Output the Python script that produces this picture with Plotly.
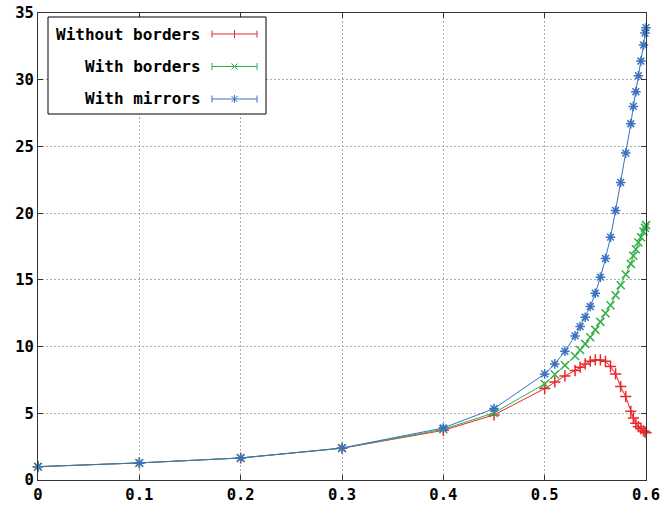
import plotly.graph_objects as go

# ---- data ----
x_vals = [0, 0.1, 0.2, 0.3, 0.4, 0.45, 0.5, 0.51, 0.52, 0.53, 0.535, 0.54, 0.545, 0.55,
          0.555, 0.56, 0.565, 0.57, 0.575, 0.58, 0.585, 0.5875, 0.59, 0.5925, 0.595,
          0.5975, 0.599, 0.6]
without_borders = [1.0, 1.28, 1.65, 2.38, 3.72, 4.88, 6.85, 7.35, 7.8, 8.2, 8.45, 8.7, 8.9, 9.0,
                   9.0, 8.9, 8.5, 7.95, 7.0, 6.25, 5.15, 4.65, 4.25, 4.0, 3.85, 3.68, 3.6, 3.55]
with_borders = [1.0, 1.28, 1.65, 2.38, 3.8, 5.03, 7.2, 7.9, 8.6, 9.3, 9.75, 10.2, 10.7, 11.25,
                11.85, 12.5, 13.1, 13.85, 14.6, 15.4, 16.2, 16.8, 17.3, 17.8, 18.2, 18.6, 18.9, 19.1]
with_mirrors = [1.0, 1.28, 1.65, 2.4, 3.9, 5.35, 7.95, 8.7, 9.65, 10.8, 11.5, 12.2, 13.0, 14.0,
                15.2, 16.6, 18.2, 20.2, 22.3, 24.5, 26.7, 28.0, 29.1, 30.3, 31.4, 32.6, 33.5, 33.9]
series_names = ["Without borders", "With borders", "With mirrors"]
x_ticks = [0, 0.1, 0.2, 0.3, 0.4, 0.5, 0.6]
x_tick_labels = ["0", "0.1", "0.2", "0.3", "0.4", "0.5", "0.6"]
y_ticks = [0, 5, 10, 15, 20, 25, 30, 35]

# ---- styling ----
W, H = 663, 509
ML, MR, MT, MB = 38, 17, 13, 29
colors = ["#e8282b", "#31b048", "#3a72c2"]
symbols = ["cross-thin-open", "x-thin-open", "asterisk-open"]
FONT = dict(family="DejaVu Sans Mono", size=15.5, color="#000000", weight="bold")
LEG_FONT = dict(family="DejaVu Sans Mono", size=16, color="#000000", weight="bold")

fig = go.Figure()
for name, ys, c, s in zip(series_names, [without_borders, with_borders, with_mirrors], colors, symbols):
    fig.add_trace(go.Scatter(
        x=x_vals, y=ys, mode="lines+markers", name=name,
        line=dict(color=c, width=1),
        marker=dict(symbol=s, size=8, color=c, line=dict(color=c, width=1.5)),
        showlegend=False, cliponaxis=False,
    ))

pw = W - ML - MR
ph = H - MT - MB


def px_x(p):
    return (p - ML) / pw


def px_y(p):
    return (H - MB - p) / ph


shapes = []
annotations = []
# legend box
shapes.append(dict(type="rect", xref="paper", yref="paper",
                   x0=px_x(48), x1=px_x(266), y0=px_y(114), y1=px_y(17),
                   line=dict(color="#000000", width=1), fillcolor="#ffffff", layer="above"))
row_y = [34, 66.5, 99]
for i, (name, c) in enumerate(zip(series_names, colors)):
    yy = row_y[i]
    annotations.append(dict(xref="paper", yref="paper", x=px_x(203), y=px_y(yy),
                            xanchor="right", yanchor="middle", text=name, showarrow=False,
                            font=LEG_FONT))
    ln = dict(color=c, width=1)
    shapes.append(dict(type="line", xref="paper", yref="paper", x0=px_x(212), x1=px_x(257),
                       y0=px_y(yy), y1=px_y(yy), line=ln, layer="above"))
    for ex in (212, 257):
        shapes.append(dict(type="line", xref="paper", yref="paper", x0=px_x(ex), x1=px_x(ex),
                           y0=px_y(yy - 3.5), y1=px_y(yy + 3.5), line=ln, layer="above"))
    cx = 234.5
    if i in (0, 2):
        shapes.append(dict(type="line", xref="paper", yref="paper", x0=px_x(cx), x1=px_x(cx),
                           y0=px_y(yy - 4), y1=px_y(yy + 4), line=ln, layer="above"))
    if i in (1, 2):
        for d in (1, -1):
            shapes.append(dict(type="line", xref="paper", yref="paper", x0=px_x(cx - 3),
                               x1=px_x(cx + 3), y0=px_y(yy - 3 * d), y1=px_y(yy + 3 * d),
                               line=ln, layer="above"))

axis_common = dict(
    showline=True, linecolor="#333333", linewidth=1, mirror="allticks",
    ticks="inside", ticklen=5, tickcolor="#333333", tickwidth=1,
    showgrid=True, gridcolor="#ababab", gridwidth=1, griddash="2px,2px",
    zeroline=False, tickfont=FONT, automargin=False,
)
fig.update_xaxes(range=[0, 0.6], tickvals=x_ticks, ticktext=x_tick_labels, **axis_common)
fig.update_yaxes(range=[0, 35], tickvals=y_ticks, **axis_common)

fig.update_layout(
    width=W, height=H,
    margin=dict(l=ML, r=MR, t=MT, b=MB, pad=0, autoexpand=False),
    paper_bgcolor="#ffffff", plot_bgcolor="#ffffff",
    shapes=shapes, annotations=annotations,
    showlegend=False,
)
fig.write_html("out.html", config={"displayModeBar": False},
               post_script="document.body.style.margin='0';document.body.style.overflow='hidden';")
